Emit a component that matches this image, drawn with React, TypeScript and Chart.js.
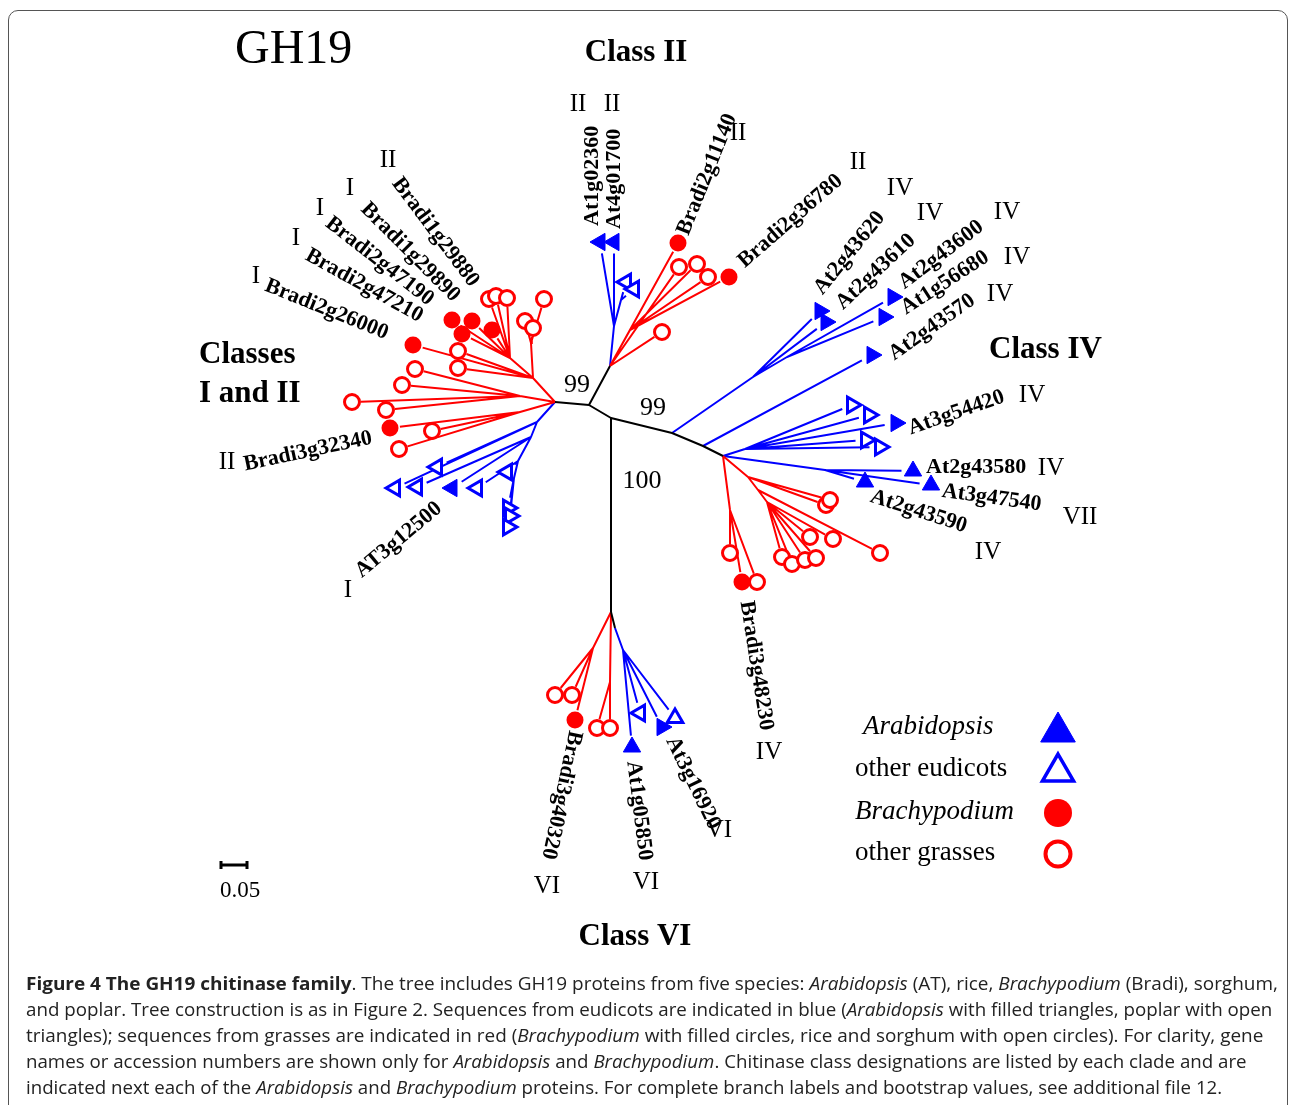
import React, { useEffect, useLayoutEffect, useRef } from "react";
import { Chart, registerables } from "chart.js";

Chart.register(...registerables);

// ---------------- DATA ----------------
// Backbone (black) nodes of the unrooted tree: id, parent, x, y (tree layout units)
const backboneNodes: [string, string | null, number, number][] = [
  ["B", null, 589, 405],
  ["A", "B", 555, 402],
  ["C", "B", 610, 366],
  ["D", "B", 611, 418],
  ["E", "D", 611, 612],
  ["E2", "E", 615, 628],
  ["F", "D", 672, 433],
  ["H", "F", 703, 446],
  ["G", "H", 723, 456],
];

// Clade internal nodes: id, parent, x, y, clade colour (r = grasses, b = eudicots)
const cladeNodes: [string, string, number, number, string][] = [
  ["Ra", "A", 533, 378, "r"],
  ["Rb", "Ra", 531, 343, "r"],
  ["Rc", "Ra", 510, 358, "r"],
  ["Rd", "A", 520, 396, "r"],
  ["Re", "A", 520, 412, "r"],
  ["Cc", "C", 630, 330, "r"],
  ["R1", "G", 730, 510, "r"],
  ["R2", "G", 748, 477, "r"],
  ["R3", "R2", 758, 490, "r"],
  ["R4", "R3", 767, 502, "r"],
  ["Va", "E", 593, 648, "r"],
  ["Vb", "E", 610, 682, "r"],
  ["Ba", "A", 537, 422, "b"],
  ["Bb", "Ba", 531, 437, "b"],
  ["Bc", "Bb", 518, 461, "b"],
  ["Bd", "Bc", 514, 478, "b"],
  ["Ca", "C", 614, 326, "b"],
  ["Cb", "Ca", 621, 300, "b"],
  ["Fa", "F", 753, 377, "b"],
  ["Fb", "Fa", 787, 357, "b"],
  ["Ga", "G", 745, 449, "b"],
  ["Gc", "G", 825, 470, "b"],
  ["Vc", "E2", 623, 650, "b"],
];

// Leaves: parent, x, y, species group, triangle orientation (deg)
// AT = Arabidopsis, EU = other eudicots, BR = Brachypodium, GR = other grasses
const leafMarks: [string, number, number, string, number][] = [
  ["Ra", 413, 345, "BR", 0], ["Ra", 458, 351, "GR", 0], ["Ra", 458, 368, "GR", 0],
  ["Rb", 544, 299, "GR", 0], ["Rb", 525, 321, "GR", 0], ["Rb", 533, 328, "GR", 0],
  ["Rc", 489, 299, "GR", 0], ["Rc", 496, 296, "GR", 0], ["Rc", 507, 298, "GR", 0],
  ["Rc", 452, 320, "BR", 0], ["Rc", 472, 321, "BR", 0], ["Rc", 462, 334, "BR", 0], ["Rc", 492, 330, "BR", 0],
  ["Rd", 415, 369, "GR", 0], ["Rd", 402, 385, "GR", 0], ["Rd", 352, 402, "GR", 0], ["Rd", 386, 410, "GR", 0],
  ["Re", 390, 428, "BR", 0], ["Re", 432, 431, "GR", 0], ["Re", 399, 449, "GR", 0],
  ["Ba", 437, 467, "EU", 270], ["Ba", 395, 488, "EU", 270],
  ["Bb", 417, 487, "EU", 270], ["Bb", 452, 488, "AT", 270],
  ["Bc", 477, 488, "EU", 270], ["Bc", 507, 472, "EU", 270],
  ["Bd", 508, 508, "EU", 90], ["Bd", 510, 516, "EU", 90], ["Bd", 508, 527, "EU", 90],
  ["Ca", 600, 242, "AT", 270], ["Ca", 614, 242, "AT", 270],
  ["Cb", 626, 282, "EU", 270], ["Cb", 634, 289, "EU", 270],
  ["C", 678, 243, "BR", 0], ["C", 679, 267, "GR", 0], ["C", 662, 332, "GR", 0],
  ["Cc", 697, 264, "GR", 0], ["Cc", 708, 277, "GR", 0], ["Cc", 729, 277, "BR", 0],
  ["Fa", 820, 311, "AT", 90], ["Fa", 826, 322, "AT", 90],
  ["Fb", 893, 297, "AT", 90], ["Fb", 884, 317, "AT", 90],
  ["H", 872, 355, "AT", 90],
  ["Ga", 852, 405, "EU", 90], ["Ga", 869, 415, "EU", 90], ["Ga", 896, 423, "AT", 90],
  ["Ga", 866, 440, "EU", 90], ["Ga", 880, 447, "EU", 90],
  ["Gc", 913, 471, "AT", 0], ["Gc", 931, 485, "AT", 0], ["Gc", 865, 482, "AT", 0],
  ["R1", 730, 553, "GR", 0], ["R1", 742, 582, "BR", 0], ["R1", 757, 582, "GR", 0],
  ["R2", 826, 505, "GR", 0], ["R2", 830, 500, "GR", 0],
  ["R3", 880, 553, "GR", 0],
  ["R4", 810, 537, "GR", 0], ["R4", 833, 539, "GR", 0], ["R4", 782, 557, "GR", 0],
  ["R4", 792, 564, "GR", 0], ["R4", 805, 560, "GR", 0], ["R4", 816, 558, "GR", 0],
  ["Va", 555, 695, "GR", 0], ["Va", 572, 695, "GR", 0], ["Va", 575, 720, "BR", 0],
  ["Vb", 597, 728, "GR", 0], ["Vb", 610, 728, "GR", 0],
  ["Vc", 632, 747, "AT", 0], ["Vc", 640, 713, "EU", 270], ["Vc", 662, 727, "AT", 330], ["Vc", 675, 718, "EU", 0],
];

// Gene labels: text, x, y, angle (deg)
const geneLabels: [string, number, number, number][] = [
  ["Bradi1g29880", 396, 180, 53],
  ["Bradi1g29890", 364, 206, 45],
  ["Bradi2g47190", 328, 221, 38],
  ["Bradi2g47210", 307, 254, 29],
  ["Bradi2g26000", 266, 285, 22],
  ["Bradi3g32340", 244, 465, -12],
  ["AT3g12500", 358, 574, -40],
  ["At1g02360", 592, 226, -90],
  ["At4g01700", 614, 229, -90],
  ["Bradi2g11140", 683, 234, -68],
  ["Bradi2g36780", 741, 264, -41],
  ["At2g43620", 818, 292, -51],
  ["At2g43610", 839, 306, -43],
  ["At2g43600", 901, 285, -37],
  ["At1g56680", 903, 310, -33],
  ["At2g43570", 891, 356, -35],
  ["At3g54420", 909, 429, -19],
  ["At2g43580", 926, 467, 0],
  ["At3g47540", 942, 491, 8],
  ["At2g43590", 871, 496, 18],
  ["Bradi3g48230", 746, 601, 81],
  ["Bradi3g40320", 575, 731, 102],
  ["At1g05850", 633, 761, 83],
  ["At3g16920", 671, 738, 64],
];

// Chitinase class designations next to each clade / gene
const classMarks: [string, number, number][] = [
  ["II", 388, 160], ["I", 350, 188], ["I", 320, 208], ["I", 296, 238], ["I", 256, 276],
  ["II", 227, 462], ["I", 348, 590], ["II", 578, 104], ["II", 612, 104], ["II", 738, 133],
  ["II", 858, 162], ["IV", 900, 188], ["IV", 930, 213], ["IV", 1007, 212], ["IV", 1017, 257],
  ["IV", 1000, 294], ["IV", 1032, 395], ["IV", 1051, 468], ["VII", 1080, 517], ["IV", 988, 552],
  ["IV", 769, 752], ["VI", 547, 886], ["VI", 646, 882], ["VI", 719, 830],
];

// Bootstrap values
const bootstrapLabels: [string, number, number][] = [
  ["99", 577, 385],
  ["99", 653, 408],
  ["100", 642, 481],
];

// Headings: text, x, y, align
const headings: [string, number, number, string][] = [
  ["Class II", 636, 53, "center"],
  ["Classes", 199, 355, "left"],
  ["I and II", 199, 394, "left"],
  ["Class IV", 989, 350, "left"],
  ["Class VI", 635, 937, "center"],
];
const figureTitle = "GH19";

// Legend entries: group, label, italic
const legendGroups = ["AT", "EU", "BR", "GR"];
const legendTexts = ["Arabidopsis", "other eudicots", "Brachypodium", "other grasses"];
const legendItalic = [true, false, true, false];

// Scale bar length (tree units) and label
const scaleBarLength = 0.05;
const scaleBarLabel = "0.05";

// Caption lines: segments [text, style] ("b" bold, "i" italic, "" plain)
const captionLines: [string, string][][] = [
  [["Figure 4 The GH19 chitinase family", "b"], [". The tree includes GH19 proteins from five species: ", ""], ["Arabidopsis", "i"], [" (AT), rice, ", ""], ["Brachypodium", "i"], [" (Bradi), sorghum,", ""]],
  [["and poplar. Tree construction is as in Figure 2. Sequences from eudicots are indicated in blue (", ""], ["Arabidopsis", "i"], [" with filled triangles, poplar with open", ""]],
  [["triangles); sequences from grasses are indicated in red (", ""], ["Brachypodium", "i"], [" with filled circles, rice and sorghum with open circles). For clarity, gene", ""]],
  [["names or accession numbers are shown only for ", ""], ["Arabidopsis", "i"], [" and ", ""], ["Brachypodium", "i"], [". Chitinase class designations are listed by each clade and are", ""]],
  [["indicated next each of the ", ""], ["Arabidopsis", "i"], [" and ", ""], ["Brachypodium", "i"], [" proteins. For complete branch labels and bootstrap values, see additional file 12.", ""]],
];
const captionRightEdges = [1278, 1272, 1263, 1247, 1222];

// ---------------- STYLE ----------------
const BLUE = "#0000ff";
const RED = "#ff0000";
const SERIF = "'Liberation Serif', 'Times New Roman', serif";
const W = 1290;
const H = 1105;

const groupStyle: Record<string, any> = {
  AT: { pointStyle: "triangle", r: 10, bg: BLUE, bc: BLUE, bw: 1 },
  EU: { pointStyle: "triangle", r: 9, bg: "#ffffff", bc: BLUE, bw: 3 },
  BR: { pointStyle: "circle", r: 8.5, bg: RED, bc: RED, bw: 0 },
  GR: { pointStyle: "circle", r: 7.5, bg: "#ffffff", bc: RED, bw: 3 },
};
const legendStyle: Record<string, any> = {
  AT: { r: 20, bw: 1 },
  EU: { r: 18, bw: 3.5 },
  BR: { r: 14, bw: 0 },
  GR: { r: 12.5, bw: 4 },
};

type Pt = { x: number | null; y: number | null };

function buildData() {
  const pos: Record<string, [number, number]> = {};
  backboneNodes.forEach(([id, , x, y]) => (pos[id] = [x, y]));
  cladeNodes.forEach(([id, , x, y]) => (pos[id] = [x, y]));

  const black: Pt[] = [];
  const red: Pt[] = [];
  const blue: Pt[] = [];
  const seg = (arr: Pt[], a: [number, number], b: [number, number]) => {
    arr.push({ x: a[0], y: a[1] }, { x: b[0], y: b[1] }, { x: null, y: null });
  };
  backboneNodes.forEach(([id, parent]) => {
    if (parent) seg(black, pos[parent], pos[id]);
  });
  cladeNodes.forEach(([id, parent, , , c]) => {
    seg(c === "r" ? red : blue, pos[parent], pos[id]);
  });

  const marks: Record<string, { pts: Pt[]; rot: number[] }> = {
    AT: { pts: [], rot: [] },
    EU: { pts: [], rot: [] },
    BR: { pts: [], rot: [] },
    GR: { pts: [], rot: [] },
  };
  leafMarks.forEach(([parent, x, y, g, rot]) => {
    const p = pos[parent];
    const dx = x - p[0];
    const dy = y - p[1];
    const len = Math.hypot(dx, dy) || 1;
    const gap = groupStyle[g].r + 1.5;
    const tip: [number, number] = [x - (dx / len) * gap, y - (dy / len) * gap];
    seg(g === "AT" || g === "EU" ? blue : red, p, tip);
    marks[g].pts.push({ x, y });
    marks[g].rot.push(rot);
  });
  return { black, red, blue, marks };
}

const labelPlugin = {
  id: "treeLabels",
  afterDatasetsDraw(chart: any) {
    const { ctx } = chart;
    const xs = chart.scales.x;
    const ys = chart.scales.y;
    const put = (
      text: string,
      x: number,
      y: number,
      font: string,
      align: CanvasTextAlign,
      angle = 0
    ) => {
      ctx.save();
      ctx.translate(xs.getPixelForValue(x), ys.getPixelForValue(y));
      ctx.rotate((angle * Math.PI) / 180);
      ctx.font = font;
      ctx.fillStyle = "#000";
      ctx.textAlign = align;
      ctx.textBaseline = "middle";
      ctx.fillText(text, 0, 0);
      ctx.restore();
    };
    put(figureTitle, 235, 50, `48px ${SERIF}`, "left");
    headings.forEach(([t, x, y, a]) => put(t, x, y, `bold 31px ${SERIF}`, a as CanvasTextAlign));
    geneLabels.forEach(([t, x, y, a]) => put(t, x, y, `bold 22px ${SERIF}`, "left", a));
    classMarks.forEach(([t, x, y]) => put(t, x, y, `25px ${SERIF}`, "center"));
    bootstrapLabels.forEach(([t, x, y]) => put(t, x, y, `26px ${SERIF}`, "center"));
    legendTexts.forEach((t, i) =>
      put(t, i === 0 ? 863 : 855, [727, 769, 812, 853][i], `${legendItalic[i] ? "italic " : ""}27px ${SERIF}`, "left")
    );
    put(scaleBarLabel, 220, 891, `23px ${SERIF}`, "left");
  },
};

function TreeChart() {
  const ref = useRef<HTMLCanvasElement | null>(null);
  useEffect(() => {
    if (!ref.current) return;
    const { black, red, blue, marks } = buildData();
    // scale bar: 0.05 substitutions/site = 26 layout units
    const unitsPerSub = 26 / 0.05;
    const sbX0 = 221;
    const sbX1 = sbX0 + scaleBarLength * unitsPerSub;
    const sbY = 865;
    const scaleBar: Pt[] = [
      { x: sbX0, y: sbY }, { x: sbX1, y: sbY }, { x: null, y: null },
      { x: sbX0, y: sbY - 4 }, { x: sbX0, y: sbY + 4 }, { x: null, y: null },
      { x: sbX1, y: sbY - 4 }, { x: sbX1, y: sbY + 4 },
    ];
    const lineDs = (data: Pt[], color: string, w: number) => ({
      type: "scatter" as const,
      data,
      showLine: true,
      borderColor: color,
      borderWidth: w,
      pointRadius: 0,
      spanGaps: false,
      order: 5,
    });
    const markDs = legendGroups.map((g) => ({
      type: "scatter" as const,
      data: marks[g].pts,
      pointStyle: groupStyle[g].pointStyle,
      pointRadius: groupStyle[g].r,
      pointRotation: marks[g].rot,
      pointBackgroundColor: groupStyle[g].bg,
      pointBorderColor: groupStyle[g].bc,
      pointBorderWidth: groupStyle[g].bw,
      showLine: false,
      order: 1,
    }));
    const legendYs = [732, 772, 813, 854];
    const legendDs = legendGroups.map((g, i) => ({
      type: "scatter" as const,
      data: [{ x: 1058, y: legendYs[i] }],
      pointStyle: groupStyle[g].pointStyle,
      pointRadius: legendStyle[g].r,
      pointBackgroundColor: groupStyle[g].bg,
      pointBorderColor: groupStyle[g].bc,
      pointBorderWidth: legendStyle[g].bw,
      showLine: false,
      order: 1,
    }));
    const chart = new Chart(ref.current, {
      type: "scatter",
      data: {
        datasets: [
          lineDs(black, "#000000", 2),
          lineDs(red, RED, 2),
          lineDs(blue, BLUE, 2),
          lineDs(scaleBar, "#000000", 3),
          ...markDs,
          ...legendDs,
        ] as any,
      },
      options: {
        responsive: false,
        animation: false,
        events: [],
        layout: { padding: 0, autoPadding: false },
        plugins: { legend: { display: false }, tooltip: { enabled: false } },
        scales: {
          x: { type: "linear", min: 0, max: W, display: false },
          y: { type: "linear", min: 0, max: H, reverse: true, display: false },
        },
      },
      plugins: [labelPlugin],
    });
    return () => chart.destroy();
  }, []);
  return <canvas ref={ref} width={W} height={H} style={{ display: "block" }} />;
}

function Caption() {
  const refs = useRef<(HTMLSpanElement | null)[]>([]);
  useLayoutEffect(() => {
    const fit = () => {
      refs.current.forEach((el, i) => {
        if (!el) return;
        el.style.transform = "none";
        const w = el.offsetWidth;
        const target = captionRightEdges[i] - 26;
        if (w > 0) el.style.transform = `scaleX(${target / w})`;
      });
    };
    fit();
    (document as any).fonts?.ready?.then(fit);
  }, []);
  return (
    <div
      style={{
        position: "absolute",
        left: 26,
        top: 970,
        fontFamily: "'Open Sans', 'DejaVu Sans', sans-serif",
        fontSize: 18,
        lineHeight: "26px",
        color: "#222",
      }}
    >
      {captionLines.map((line, i) => (
        <div key={i} style={{ whiteSpace: "nowrap", height: 26 }}>
          <span
            ref={(el) => {
              refs.current[i] = el;
            }}
            style={{ display: "inline-block", transformOrigin: "left center" }}
          >
            {line.map(([t, s], j) => (
              <span
                key={j}
                style={{
                  fontWeight: s === "b" ? 700 : 400,
                  fontStyle: s === "i" ? "italic" : "normal",
                }}
              >
                {t}
              </span>
            ))}
          </span>
        </div>
      ))}
    </div>
  );
}

export default function App() {
  return (
    <div style={{ position: "absolute", left: 0, top: 0, width: W, height: H, overflow: "hidden", background: "#fff" }}>
      <TreeChart />
      <div
        style={{
          position: "absolute",
          left: 8,
          top: 10,
          width: 1280,
          height: 1200,
          border: "1px solid #555",
          borderRadius: 10,
          boxSizing: "border-box",
          pointerEvents: "none",
        }}
      />
      <Caption />
    </div>
  );
}
